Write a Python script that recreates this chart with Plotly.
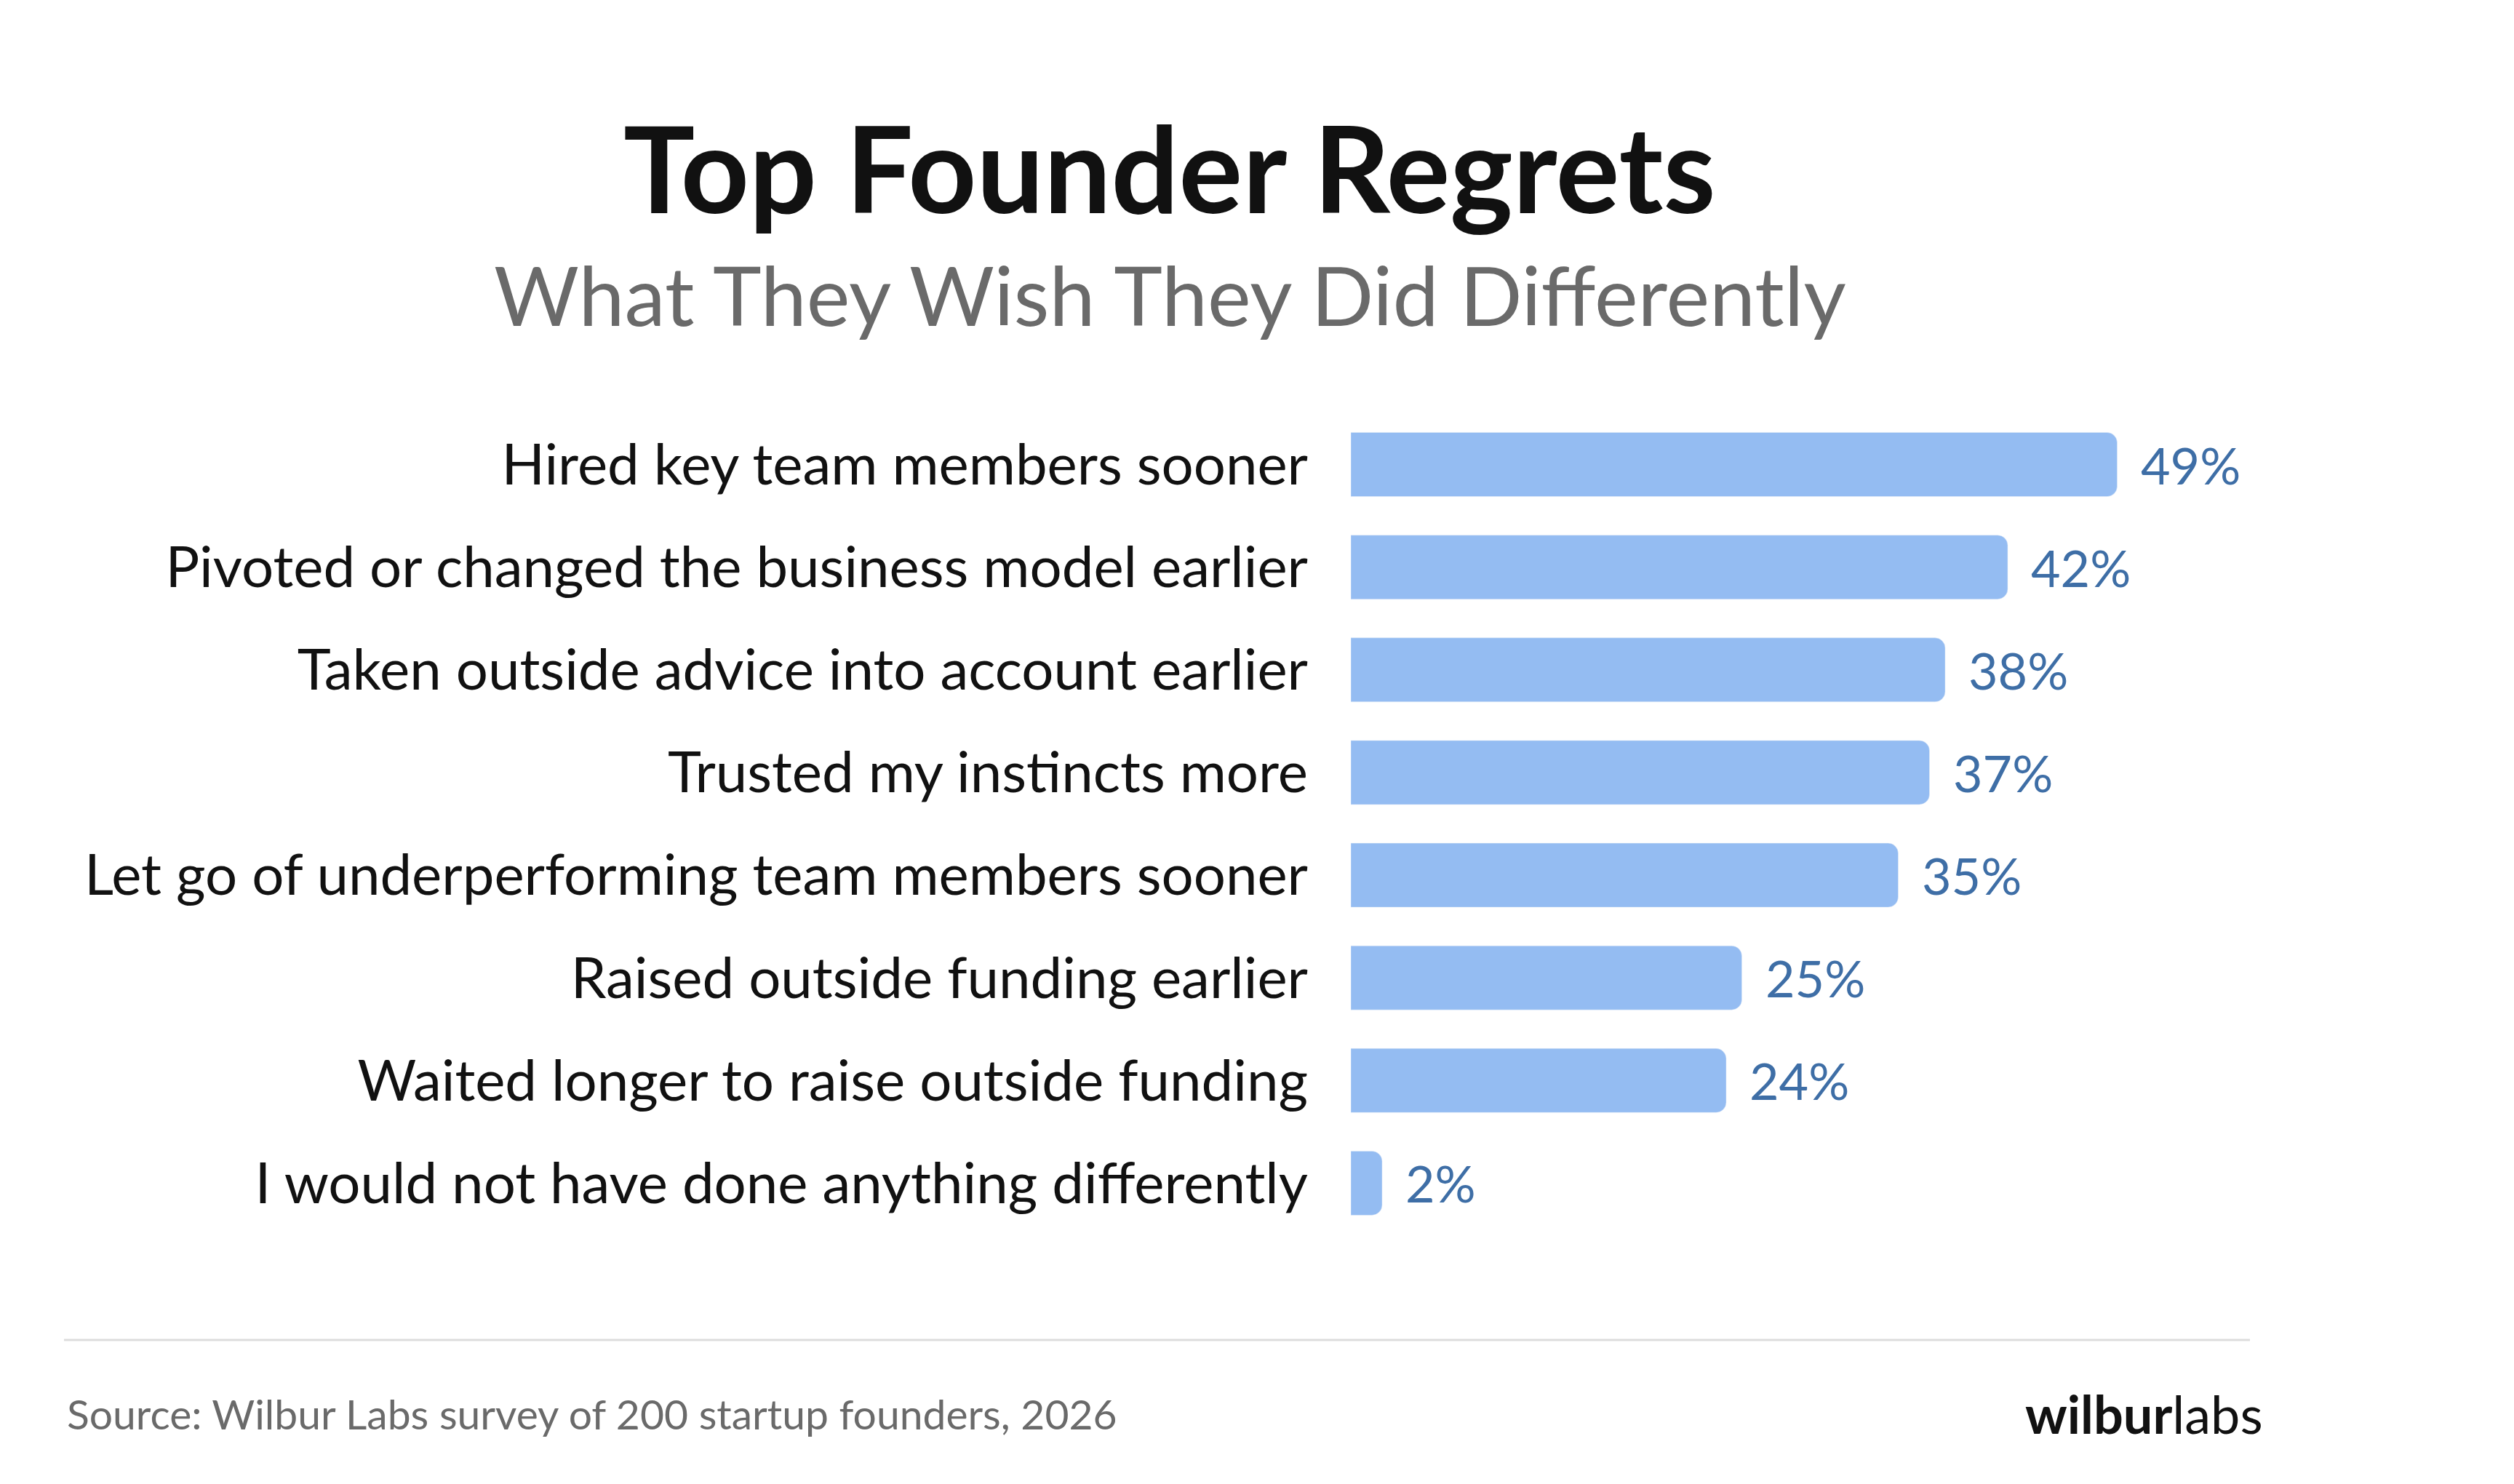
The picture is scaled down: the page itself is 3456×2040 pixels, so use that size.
import plotly.graph_objects as go

categories = ["Hired key team members sooner","Pivoted or changed the business model earlier",
              "Taken outside advice into account earlier","Trusted my instincts more",
              "Let go of underperforming team members sooner","Raised outside funding earlier",
              "Waited longer to raise outside funding","I would not have done anything differently"]
values = [49, 42, 38, 37, 35, 25, 24, 2]
labels = [f"{v}%" for v in values]

W, H = 3456, 2040
FONT = "Lato"
X0 = 1849
fig = go.Figure(go.Bar(x=values, y=categories, orientation="h", marker_color="#94bcf2",
                       hoverinfo="skip"))
for c, v, t in zip(categories, values, labels):
    fig.add_annotation(x=v, y=c, text=t, showarrow=False, xanchor="left", xshift=30,
                       font=dict(family=FONT, size=70, color="#3e6ea6"))
fig.update_layout(
    width=W, height=H, margin=dict(l=0, r=0, t=0, b=0), plot_bgcolor="white", paper_bgcolor="white",
    bargap=0.376, barcornerradius=14, showlegend=False,
    xaxis=dict(domain=[X0/W, 1.0], range=[0, (W-X0)/21.5], visible=False, fixedrange=True),
    yaxis=dict(domain=[1-1689/H, 1-560/H], autorange="reversed", showgrid=False, showline=False,
               ticks="", ticklabelstandoff=58, tickfont=dict(family=FONT, size=78, color="#111"),
               automargin=False),
    shapes=[dict(type="line", xref="paper", yref="paper", x0=80/W, x1=3085/W, y0=1-1834/H, y1=1-1834/H,
                 line=dict(color="#dddddd", width=3))],
)
fig.add_annotation(xref="paper", yref="paper", x=1600/W, y=1-221/H, yanchor="middle",
                   text="<b>Top Founder Regrets</b>",
                   showarrow=False, font=dict(family=FONT, size=164, color="#111"))
fig.add_annotation(xref="paper", yref="paper", x=1600/W, y=1-396/H, yanchor="middle",
                   text="What They Wish They Did Differently",
                   showarrow=False, font=dict(family=FONT, size=113, color="#6a6a6a"))
fig.add_annotation(xref="paper", yref="paper", x=82/W, y=1-1935/H, xanchor="left", yanchor="middle",
                   text="Source: Wilbur Labs survey of 200 startup founders, 2026",
                   showarrow=False, font=dict(family=FONT, size=57, color="#6a6a6a"))
fig.add_annotation(xref="paper", yref="paper", x=3105/W, y=1-1935/H, xanchor="right", yanchor="middle",
                   text="<b>wilbur</b>labs", showarrow=False, font=dict(family=FONT, size=72, color="#111"))
fig.write_html("out.html")
